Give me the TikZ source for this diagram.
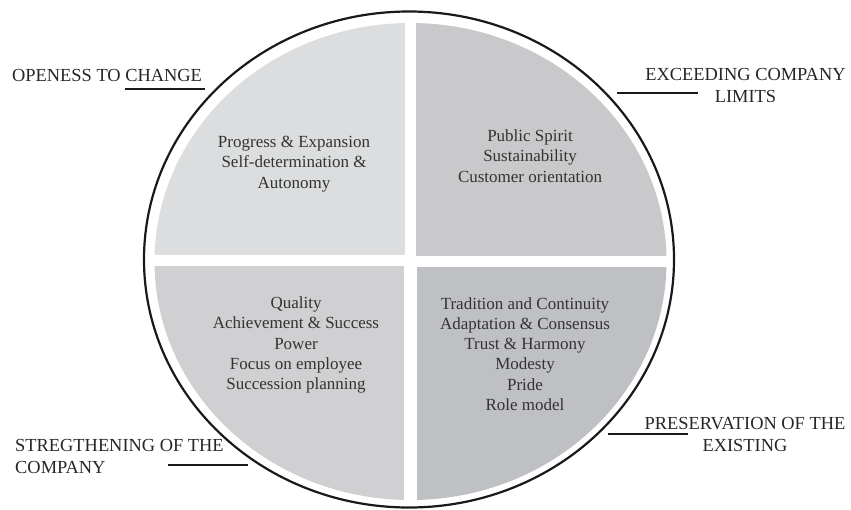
\documentclass[tikz,border=0pt]{standalone}
\usepackage{fontspec}
\setmainfont{Liberation Serif}
\usetikzlibrary{positioning}

\definecolor{quarterA}{RGB}{220,221,222}
\definecolor{quarterB}{RGB}{201,201,203}
\definecolor{quarterC}{RGB}{208,208,210}
\definecolor{quarterD}{RGB}{191,192,195}

\begin{document}
\begin{tikzpicture}[x=1pt,y=-1pt,
    lbl/.style={inner sep=0pt,text=black!85,font=\fontsize{18.4}{22}\selectfont},
    val/.style={inner sep=0pt,align=center,text=black!80,font=\fontsize{17}{20.3}\selectfont},
    bar/.style={line width=1.3pt,black!90}]

    \useasboundingbox (0,0) rectangle (851,509);

    % the four shaded quarters, cut to the inner disc
    \begin{scope}
        \clip (410.5,261.5) ellipse [x radius=256, y radius=238.5];
        \fill[quarterA] (0,0) rectangle (405,255);
        \fill[quarterB] (416,0) rectangle (851,256);
        \fill[quarterC] (0,266) rectangle (404,509);
        \fill[quarterD] (417,267) rectangle (851,509);
    \end{scope}

    % values in each quarter
    \node[val] (growth) at (294,164) {Progress \& Expansion\\Self-determination \&\\Autonomy};
    \node[val] (beyond) at (530,156) {Public Spirit\\Sustainability\\Customer orientation};
    \node[val] (strength) at (296,345) {Quality\\Achievement \& Success\\Power\\Focus on employee\\Succession planning};
    \node[val] (keep) at (525,354) {Tradition and Continuity\\Adaptation \& Consensus\\Trust \& Harmony\\Modesty\\Pride\\Role model};

    % headings outside the ring (base = last line)
    \node[lbl,anchor=base west] (growthlbl) at (12,81) {OPENESS TO CHANGE};
    \node[lbl,align=center,anchor=base] (beyondlbl) at (745.5,102) {EXCEEDING COMPANY\\LIMITS};
    \node[lbl,align=left,anchor=base west] (strengthlbl) at (15,473) {STREGTHENING OF THE\\COMPANY};
    \node[lbl,align=center,anchor=base] (keeplbl) at (745,451) {PRESERVATION OF THE\\EXISTING};

    \coordinate (growth-a) at (125,89);
    \coordinate (growth-b) at (205,89);
    \coordinate (beyond-a) at (617,93);
    \coordinate (beyond-b) at (698,93);
    \coordinate (strength-a) at (168,465);
    \coordinate (strength-b) at (248,465);
    \coordinate (keep-a) at (608,434);
    \coordinate (keep-b) at (688,434);

    \draw[bar] (growth-a) -- (growth-b);
    \draw[bar] (beyond-a) -- (beyond-b);
    \draw[bar] (strength-a) -- (strength-b);
    \draw[bar] (keep-a) -- (keep-b);

    % outer ring
    \draw[line width=2.2pt,black!90] (409,259.5) ellipse [x radius=265, y radius=248];

\end{tikzpicture}
\end{document}
